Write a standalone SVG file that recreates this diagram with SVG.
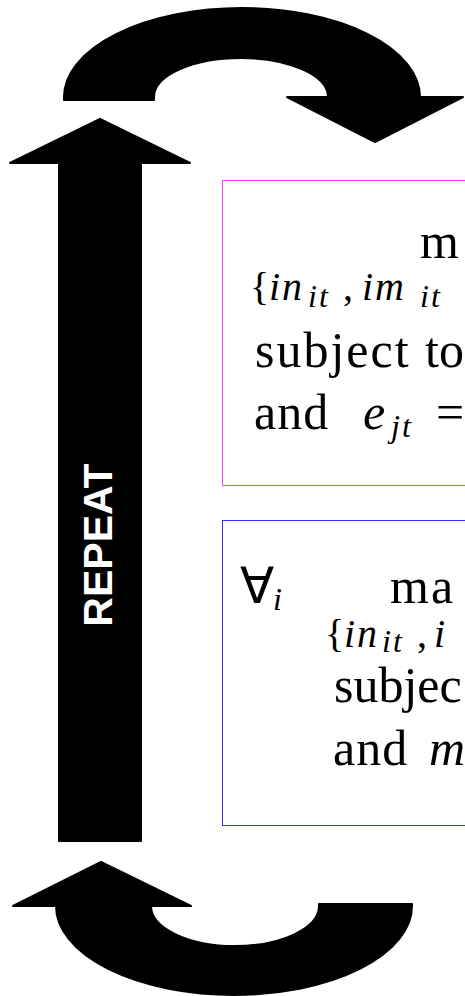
<svg xmlns="http://www.w3.org/2000/svg" width="465" height="996" viewBox="0 0 465 996">
<style>
.arrow{fill:#000;stroke:#000;stroke-width:2;stroke-linejoin:round}
.big{font-size:50px}
.mid{font-size:40px}
.it{font-style:italic}
.s{font-size:32px;font-style:italic}
.lbl{font-family:"Liberation Sans",Arial,sans-serif;font-weight:bold;font-size:41px;fill:#fff}
</style>
<rect width="465" height="996" fill="#fff"/>
<g id="connectors">
<path id="loop-top" class="arrow" d="M64,100 L64,97 A178 89 0 0 1 420,97 L463,97 L375,142 L287,97 L328,97 A87 39 0 0 0 154,97 L154,100 Z"/>
<path id="loop-bottom" class="arrow" d="M412,904 L412,906 A178 89 0 0 1 56,906 L13,906 L101,862 L191,906 L151,906 A84 40 0 0 0 319,906 L319,904 Z"/>
<g id="repeat">
<polygon class="arrow" points="100,119 190,163 141,163 141,841 59,841 59,163 10,163"/>
<text class="lbl" transform="translate(112,545) rotate(-90)" text-anchor="middle">REPEAT</text>
</g>
</g>
<g id="box-objective" font-family="Liberation Serif, Times New Roman, serif" fill="#000">
<rect x="222.5" y="180.5" width="260" height="305" fill="none" stroke="#ff44ff" stroke-width="1"/>
<text class="big" x="420" y="258">m</text>
<text class="mid" y="300"><tspan x="250">{</tspan><tspan class="it" x="269" letter-spacing="2">in</tspan><tspan class="s" x="308" dy="7" letter-spacing="2">it</tspan><tspan x="343" dy="-7">,</tspan><tspan class="it" x="362" letter-spacing="2">im</tspan><tspan class="s" x="420" dy="7" letter-spacing="2">it</tspan></text>
<text class="big" y="367"><tspan x="255" letter-spacing="2">subject</tspan><tspan x="425">to</tspan></text>
<text class="big" y="429"><tspan x="254" letter-spacing="1">and</tspan><tspan class="it" x="363">e</tspan><tspan class="s" x="391" dy="8" letter-spacing="2">jt</tspan><tspan x="436" dy="-8">=</tspan></text>
</g>
<g id="box-agents" font-family="Liberation Serif, Times New Roman, serif" fill="#000">
<rect x="222.5" y="520.5" width="260" height="305" fill="none" stroke="#3333ff" stroke-width="1"/>
<text class="big" y="603"><tspan x="240">∀</tspan><tspan class="s" x="273" dy="7">i</tspan></text>
<text class="big" x="390" y="603" letter-spacing="2">ma</text>
<text class="mid" y="647"><tspan x="325">{</tspan><tspan class="it" x="344" letter-spacing="2">in</tspan><tspan class="s" x="382" dy="5" letter-spacing="2">it</tspan><tspan x="417" dy="-5">,</tspan><tspan class="it" x="434">i</tspan></text>
<text class="big" x="334" y="702">subjec</text>
<text class="big" y="765"><tspan x="333" letter-spacing="1">and</tspan><tspan class="it" x="429">m</tspan></text>
</g>
</svg>
